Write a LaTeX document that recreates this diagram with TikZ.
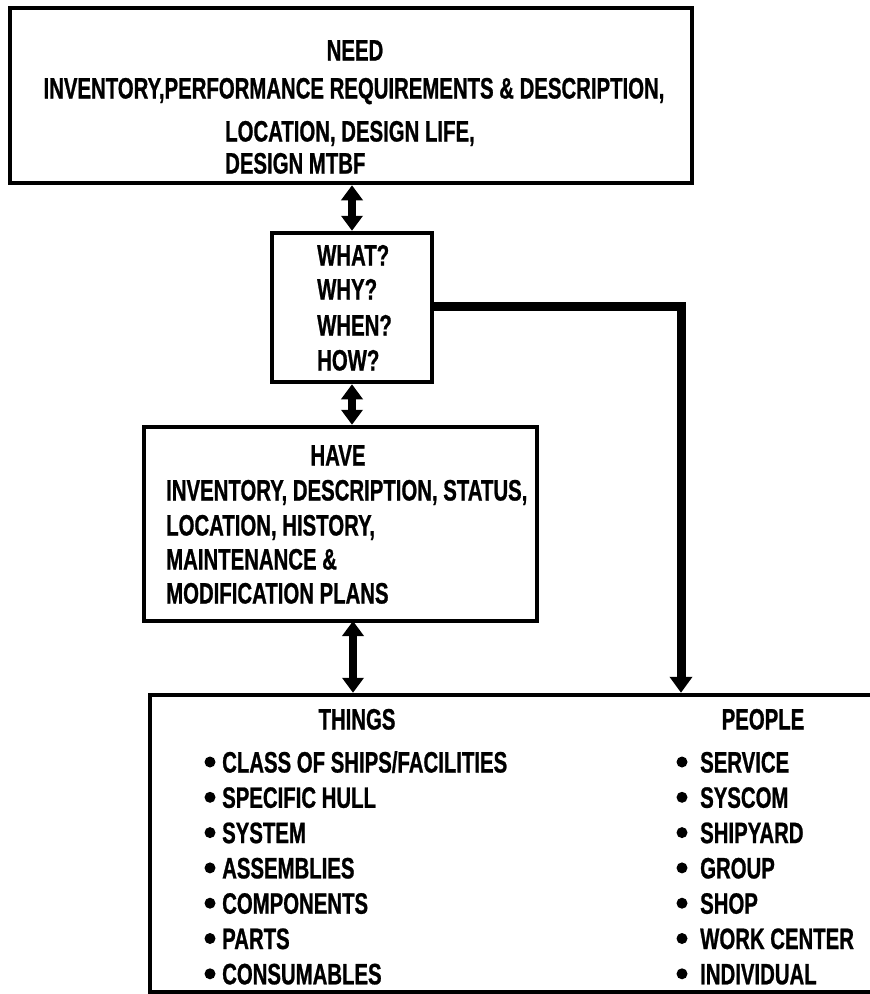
\documentclass[tikz,border=0pt]{standalone}
\usepackage{fontspec}
\setmainfont{Liberation Sans}[FakeStretch=0.69, BoldFeatures={FakeBold=0.8}]
\usetikzlibrary{arrows.meta}
\begin{document}
\begin{tikzpicture}[x=1pt,y=-1pt,
  box/.style={draw, line width=4.5pt, inner sep=0pt},
  txt/.style={inner sep=0pt, text height=21pt, text depth=0pt, font=\fontsize{29.5}{32}\selectfont\bfseries},
  bul/.style={circle, fill, inner sep=0pt, minimum size=11pt},
  dbl/.style={line width=8pt, {Triangle[width=21pt,length=15pt]}-{Triangle[width=21pt,length=15pt]}},
  feed/.style={line width=9pt, line join=miter, -{Triangle[width=22pt,length=16pt]}}
]
\useasboundingbox (0,0) rectangle (870,994);
\clip (0,0) rectangle (870,994);
% boxes
\node[box, minimum width=682pt, minimum height=175pt] (need) at (351,95.5) {};
\node[box, minimum width=160pt, minimum height=149pt] (what) at (352,307.5) {};
\node[box, minimum width=393pt, minimum height=194pt] (have) at (340.5,524) {};
\node[box, minimum width=750pt, minimum height=297pt] (bottom) at (525,843.5) {};
% NEED text
\node[txt] (n1) at (355,50) {NEED};
\node[txt] (n2) at (354,88) {INVENTORY,PERFORMANCE REQUIREMENTS \& DESCRIPTION,};
\node[txt, anchor=west] (n3) at (225,131) {LOCATION, DESIGN LIFE,};
\node[txt, anchor=west] (n4) at (225,163) {DESIGN MTBF};
% WHAT text
\node[txt, anchor=west] (w1) at (317,255) {WHAT?};
\node[txt, anchor=west] (w2) at (317,289) {WHY?};
\node[txt, anchor=west] (w3) at (317,325) {WHEN?};
\node[txt, anchor=west] (w4) at (317,360) {HOW?};
% HAVE text
\node[txt] (h0) at (338,455) {HAVE};
\node[txt, anchor=west] (h1) at (166,490) {INVENTORY, DESCRIPTION, STATUS,};
\node[txt, anchor=west] (h2) at (166,525) {LOCATION, HISTORY,};
\node[txt, anchor=west] (h3) at (166,559) {MAINTENANCE \&};
\node[txt, anchor=west] (h4) at (166,593) {MODIFICATION PLANS};
% bottom headings
\node[txt] (things) at (357,719) {THINGS};
\node[txt] (people) at (763,719) {PEOPLE};
% lists
\foreach \t [count=\i from 0] in {CLASS OF SHIPS/FACILITIES, SPECIFIC HULL, SYSTEM, ASSEMBLIES, COMPONENTS, PARTS, CONSUMABLES}{
  \node[bul] (tb\i) at (210,762+35.3*\i) {};
  \node[txt, anchor=west] (tt\i) at (222,762+35.3*\i) {\t};
}
\foreach \t [count=\i from 0] in {SERVICE, SYSCOM, SHIPYARD, GROUP, SHOP, WORK CENTER, INDIVIDUAL}{
  \node[bul] (pb\i) at (682,762+35.3*\i) {};
  \node[txt, anchor=west] (pt\i) at (700,762+35.3*\i) {\t};
}
% connectors
\draw[dbl] (what.north) -- (what.north |- need.south);
\draw[dbl] (what.south) -- (what.south |- have.north);
\coordinate (a3) at (353,621);
\draw[dbl] (a3) -- (a3 |- bottom.north);
\coordinate (pc) at (681,306);
\draw[feed] (what.east |- pc) -| (pc |- bottom.north);
\end{tikzpicture}
\end{document}
